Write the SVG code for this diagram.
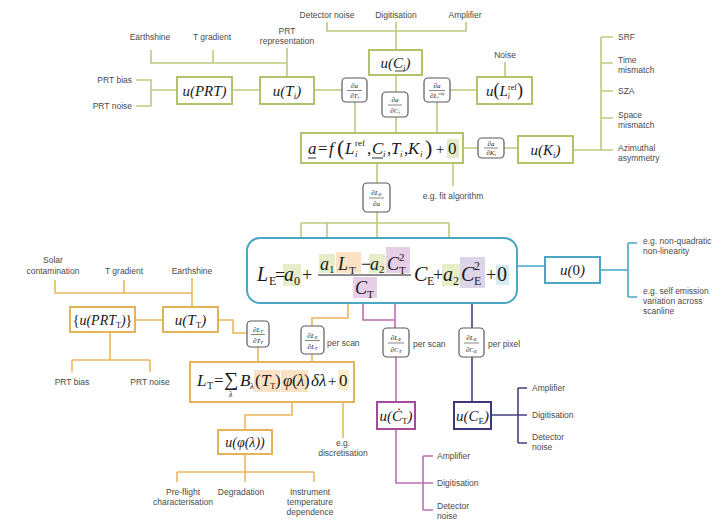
<svg xmlns="http://www.w3.org/2000/svg" width="728" height="523" viewBox="0 0 728 523">
<style>
.lbl{font-family:"Liberation Sans",Arial,sans-serif;font-size:8.5px;fill:#4a4a4a}
.m{font-family:"Liberation Serif","Times New Roman",serif;font-style:italic;fill:#1a1a1a}
.r{font-style:normal}
.gl{fill:none;stroke:#bccb7f;stroke-width:1.6}
.gb{fill:#fff;stroke:#b2c46a;stroke-width:2}
.ol{fill:none;stroke:#e9b85c;stroke-width:1.6}
.ob{fill:#fff;stroke:#e4b257;stroke-width:2}
.pl{fill:none;stroke:#bf6cb2;stroke-width:1.6}
.pb{fill:#fff;stroke:#a54a98;stroke-width:2}
.nl{fill:none;stroke:#45417f;stroke-width:1.6}
.nb{fill:#fff;stroke:#3c3878;stroke-width:2}
.bl{fill:none;stroke:#4ba6c4;stroke-width:1.6}
.bb{fill:#fff;stroke:#4ba6c4;stroke-width:2}
.pd rect{fill:#fff;stroke:#5a5a5a;stroke-width:1.2}
.pd line{stroke:#333;stroke-width:0.6}
.pd text{font-family:"Liberation Serif","Times New Roman",serif;font-style:italic;font-size:7px;fill:#222;text-anchor:middle}
</style>

<g id="connectors">
  <!-- green top -->
  <path class="gl" d="M151,50 V63 H287 M213,50 V63 M287,48 V77"/>
  <path class="gl" d="M136,80 H151 V106 H136 M151,90 H177 M232,90 H260 M314,90 H342"/>
  <path class="gl" d="M327,22 V31 H466 V22 M396,22 V50 M396,75 V92 M396,117 V133"/>
  <path class="gl" d="M355,102 V133 M437,102 V133 M450,90 H477 M505,62 V77"/>
  <path class="gl" d="M463,148 H478 M504,148 H518 M573,150 H613 M601,37 V150 M601,37 H613 M601,63 H613 M601,91 H613 M601,118 H613"/>
  <path class="gl" d="M453,163 V186 M377,163 V183 M377,212 V252 M301,223 H449 M301,223 V262 M327,223 V254 M449,223 V262"/>
  <!-- blue -->
  <path class="bl" d="M517,266 H545 M600,270 H628 M628,243 V297 M628,243 H637 M628,297 H637"/>
  <!-- orange -->
  <path class="ol" d="M55,280 V293 H192 M124,280 V293 M192,278 V307 M135,320 H163 M218,320 H233 V333 H247"/>
  <path class="ol" d="M110,332 V360 M72,360 H150 M72,360 V372 M150,360 V372"/>
  <path class="ol" d="M258,347 V362 M348,303 V318 H312 V326 M312,354 V362"/>
  <path class="ol" d="M292,402 V415 H245 V430 M343,402 V438 M245,454 V472 M177,472 H314 M177,472 V482 M245,472 V482 M314,472 V482"/>
  <!-- purple -->
  <path class="pl" d="M363,297 V320 H395 M395,278 V328 M396,357 V402 M396,429 V483 H423 M423,456 V510 M423,456 H433 M423,483 H433 M423,510 H433"/>
  <!-- navy -->
  <path class="nl" d="M472,291 V328 M472,357 V402 M491,415 H527 M518,388 V443 M518,388 H527 M518,443 H527"/>
</g>

<g id="labels" class="lbl">
  <text x="150" y="40" text-anchor="middle">Earthshine</text>
  <text x="212" y="40" text-anchor="middle">T gradient</text>
  <text x="287" y="34" text-anchor="middle">PRT</text>
  <text x="287" y="44" text-anchor="middle">representation</text>
  <text x="132" y="83" text-anchor="end">PRT bias</text>
  <text x="132" y="109" text-anchor="end">PRT noise</text>
  <text x="327" y="18" text-anchor="middle">Detector noise</text>
  <text x="396" y="18" text-anchor="middle">Digitisation</text>
  <text x="465" y="18" text-anchor="middle">Amplifier</text>
  <text x="505" y="58" text-anchor="middle">Noise</text>
  <text x="618" y="40">SRF</text>
  <text x="618" y="63">Time</text>
  <text x="618" y="73">mismatch</text>
  <text x="618" y="94">SZA</text>
  <text x="618" y="118">Space</text>
  <text x="618" y="128">mismatch</text>
  <text x="618" y="151">Azimuthal</text>
  <text x="618" y="161">asymmetry</text>
  <text x="453" y="199" text-anchor="middle">e.g. fit algorithm</text>
  <text x="643" y="244">e.g. non-quadratic</text>
  <text x="643" y="254">non-linearity</text>
  <text x="643" y="294">e.g. self emission</text>
  <text x="643" y="304">variation across</text>
  <text x="643" y="314">scanline</text>
  <text x="53" y="263" text-anchor="middle">Solar</text>
  <text x="53" y="274" text-anchor="middle">contamination</text>
  <text x="124" y="274" text-anchor="middle">T gradient</text>
  <text x="192" y="274" text-anchor="middle">Earthshine</text>
  <text x="72" y="385" text-anchor="middle">PRT bias</text>
  <text x="150" y="385" text-anchor="middle">PRT noise</text>
  <text x="327" y="346">per scan</text>
  <text x="413" y="347">per scan</text>
  <text x="488" y="347">per pixel</text>
  <text x="343" y="446" text-anchor="middle">e.g.</text>
  <text x="343" y="456" text-anchor="middle">discretisation</text>
  <text x="183" y="495" text-anchor="middle">Pre-flight</text>
  <text x="183" y="505" text-anchor="middle">characterisation</text>
  <text x="241" y="495" text-anchor="middle">Degradation</text>
  <text x="310" y="495" text-anchor="middle">Instrument</text>
  <text x="310" y="505" text-anchor="middle">temperature</text>
  <text x="310" y="515" text-anchor="middle">dependence</text>
  <text x="437" y="459">Amplifier</text>
  <text x="437" y="486">Digitisation</text>
  <text x="437" y="509">Detector</text>
  <text x="437" y="519">noise</text>
  <text x="532" y="391">Amplifier</text>
  <text x="532" y="418">Digitisation</text>
  <text x="532" y="440">Detector</text>
  <text x="532" y="450">noise</text>
</g>

<!-- green nodes -->
<g id="uPRT"><rect class="gb" x="177" y="77" width="55" height="27"/>
  <text class="m" x="204.5" y="96" font-size="15" text-anchor="middle">u(PRT)</text></g>
<g id="uTi"><rect class="gb" x="260" y="77" width="54" height="27"/>
  <text class="m" x="287" y="96" font-size="15" text-anchor="middle">u(T<tspan font-size="9" dy="3">i</tspan><tspan dy="-3">)</tspan></text></g>
<g id="uCi"><rect class="gb" x="369" y="50" width="53" height="25"/>
  <text class="m" x="395.5" y="68" font-size="15" text-anchor="middle">u(C<tspan font-size="9" dy="3">i</tspan><tspan dy="-3">)</tspan></text>
  <line x1="395" y1="71" x2="405" y2="71" stroke="#1a1a1a" stroke-width="0.8"/></g>
<g id="uLref"><rect class="gb" x="477" y="77" width="55" height="27"/>
  <text class="m" x="504.5" y="96" font-size="15" text-anchor="middle">u<tspan font-size="18" class="r">(</tspan>L<tspan font-size="8" dy="3">i</tspan><tspan font-size="8" dy="-9" dx="-2" class="r">ref</tspan><tspan font-size="18" dy="6" class="r">)</tspan></text></g>
<g id="uKi"><rect class="gb" x="518" y="136" width="55" height="27"/>
  <text class="m" x="545.5" y="155" font-size="15" text-anchor="middle">u(K<tspan font-size="9" dy="3">i</tspan><tspan dy="-3">)</tspan></text></g>

<g id="afunc"><rect class="gb" x="301" y="133" width="162" height="30"/>
  <rect x="447" y="139" width="12" height="19" fill="#e3ecc6"/>
  <text class="m" font-size="17" y="154"><tspan x="308">a</tspan><tspan x="318" class="r">=</tspan><tspan x="329">f</tspan><tspan x="337" class="r" font-size="22" dy="1">(</tspan><tspan x="345" dy="-1">L</tspan><tspan x="355" font-size="9" dy="3">i</tspan><tspan x="355" font-size="9" dy="-11" class="r">ref</tspan><tspan x="367" dy="8" class="r">,</tspan><tspan x="372">C</tspan><tspan x="383" font-size="9" dy="3">i</tspan><tspan x="387" dy="-3" class="r">,</tspan><tspan x="391">T</tspan><tspan x="400" font-size="9" dy="3">i</tspan><tspan x="404" dy="-3" class="r">,</tspan><tspan x="408">K</tspan><tspan x="420" font-size="9" dy="3">i</tspan><tspan x="425" class="r" font-size="22" dy="-2">)</tspan><tspan x="436" class="r" font-size="15" dy="-1">+</tspan><tspan x="448" class="r">0</tspan></text>
  <line x1="308" y1="158" x2="316" y2="158" stroke="#1a1a1a" stroke-width="0.9"/>
  <line x1="372" y1="158" x2="383" y2="158" stroke="#1a1a1a" stroke-width="0.9"/></g>

<!-- partial derivative boxes -->
<g id="pd_a_T" class="pd"><rect x="342" y="78" width="25" height="24" rx="4"/><text x="354.5" y="88">∂a</text><line x1="347" y1="90.5" x2="362" y2="90.5"/><text x="354.5" y="98">∂T<tspan font-size="5" dy="1">i</tspan></text></g>
<g id="pd_a_C" class="pd"><rect x="382" y="92" width="26" height="25" rx="4"/><text x="395" y="102">∂a</text><line x1="388" y1="105" x2="402" y2="105"/><text x="395" y="113">∂C<tspan font-size="5" dy="1">i</tspan></text></g>
<g id="pd_a_L" class="pd"><rect x="424" y="78" width="26" height="24" rx="4"/><text x="437" y="88">∂a</text><line x1="429" y1="90.5" x2="445" y2="90.5"/><text x="437" y="98">∂L<tspan font-size="5" dy="1">i</tspan><tspan font-size="5" dy="-4">ref</tspan></text></g>
<g id="pd_a_K" class="pd"><rect x="478" y="138" width="26" height="20" rx="4"/><text x="491" y="146">∂a</text><line x1="484" y1="148" x2="498" y2="148"/><text x="491" y="155">∂K<tspan font-size="5" dy="1">i</tspan></text></g>
<g id="pd_LE_a" class="pd"><rect x="363" y="183" width="27" height="29" rx="4"/><text x="376.5" y="195">∂L<tspan font-size="5" dy="1">E</tspan></text><line x1="369" y1="198" x2="384" y2="198"/><text x="376.5" y="206">∂a</text></g>
<g id="pd_LT_T" class="pd"><rect x="247" y="321" width="22" height="26" rx="4"/><text x="258" y="332">∂L<tspan font-size="5" dy="1">T</tspan></text><line x1="251" y1="334.5" x2="265" y2="334.5"/><text x="258" y="343">∂T<tspan font-size="5" dy="1">T</tspan></text></g>
<g id="pd_LE_LT" class="pd"><rect x="301" y="326" width="23" height="28" rx="4"/><text x="312.5" y="338">∂L<tspan font-size="5" dy="1">E</tspan></text><line x1="305" y1="340.5" x2="320" y2="340.5"/><text x="312.5" y="349">∂L<tspan font-size="5" dy="1">T</tspan></text></g>
<g id="pd_LE_CT" class="pd"><rect x="383" y="328" width="26" height="29" rx="4"/><text x="396" y="340">∂L<tspan font-size="5" dy="1">E</tspan></text><line x1="388" y1="343" x2="404" y2="343"/><text x="396" y="352">∂C<tspan font-size="5" dy="1">T</tspan></text></g>
<g id="pd_LE_CE" class="pd"><rect x="459" y="328" width="25" height="29" rx="4"/><text x="471.5" y="340">∂L<tspan font-size="5" dy="1">E</tspan></text><line x1="464" y1="343" x2="479" y2="343"/><text x="471.5" y="352">∂C<tspan font-size="5" dy="1">E</tspan></text></g>

<!-- main LE equation -->
<g id="LE">
  <rect class="bb" x="247" y="238" width="270" height="65" rx="13"/>
  <rect x="283" y="264" width="18" height="22" fill="#e6edc8"/>
  <rect x="319" y="254" width="16" height="19" fill="#e6edc8"/>
  <rect x="336" y="252" width="25" height="21" fill="#fbe2c4"/>
  <rect x="369" y="254" width="16" height="19" fill="#e6edc8"/>
  <rect x="386" y="247" width="24" height="26" fill="#e8cfe8"/>
  <rect x="353" y="277" width="24" height="21" fill="#e8cfe8"/>
  <rect x="442" y="264" width="18" height="22" fill="#e6edc8"/>
  <rect x="460" y="257" width="25" height="31" fill="#dcd5ea"/>
  <rect x="496" y="265" width="13" height="20" fill="#d5eaf2"/>
  <line x1="318" y1="275" x2="411" y2="275" stroke="#1a1a1a" stroke-width="1"/>
  <text class="m" font-size="20" y="281"><tspan x="257">L</tspan><tspan x="269" font-size="12" dy="4" class="r">E</tspan><tspan x="275" dy="-4" class="r" font-size="18">=</tspan><tspan x="284">a</tspan><tspan x="294" font-size="12" dy="4" class="r">0</tspan><tspan x="302" dy="-4" class="r" font-size="18">+</tspan><tspan x="414">C</tspan><tspan x="427" font-size="12" dy="4" class="r">E</tspan><tspan x="433" dy="-4" class="r" font-size="18">+</tspan><tspan x="443">a</tspan><tspan x="453" font-size="12" dy="4" class="r">2</tspan><tspan x="461" dy="-4">C</tspan><tspan x="474" font-size="12" dy="-11" class="r">2</tspan><tspan x="474" font-size="12" dy="15" class="r">E</tspan><tspan x="486" dy="-4" class="r" font-size="18">+</tspan><tspan x="497" class="r">0</tspan></text>
  <text class="m" font-size="18" y="270"><tspan x="320">a</tspan><tspan x="329" font-size="11" dy="3" class="r">1</tspan><tspan x="338" dy="-3">L</tspan><tspan x="349" font-size="11" dy="4" class="r">T</tspan><tspan x="361" dy="-4" class="r">−</tspan><tspan x="370">a</tspan><tspan x="379" font-size="11" dy="3" class="r">2</tspan><tspan x="387" dy="-3">C</tspan><tspan x="399" font-size="11" dy="-9" class="r">2</tspan><tspan x="399" font-size="11" dy="13" class="r">T</tspan></text>
  <text class="m" font-size="18" y="294"><tspan x="355">C</tspan><tspan x="367" font-size="11" dy="4" class="r">T</tspan></text>
</g>

<g id="u0"><rect class="bb" x="545" y="257" width="55" height="26"/>
  <text class="m" x="572.5" y="275" font-size="15" text-anchor="middle">u(<tspan class="r">0</tspan>)</text></g>

<!-- orange nodes -->
<g id="uPRTT"><rect class="ob" x="70" y="307" width="65" height="25"/>
  <text class="m" x="102.5" y="325" font-size="14" text-anchor="middle"><tspan class="r">{</tspan>u(PRT<tspan font-size="8" dy="3" class="r">T</tspan><tspan dy="-3">)</tspan><tspan class="r">}</tspan></text></g>
<g id="uTT"><rect class="ob" x="163" y="307" width="55" height="25"/>
  <text class="m" x="190.5" y="325" font-size="15" text-anchor="middle">u(T<tspan font-size="9" dy="3" class="r">T</tspan><tspan dy="-3">)</tspan></text></g>
<g id="LT"><rect class="ob" x="190" y="362" width="164" height="40"/>
  <rect x="254" y="370" width="26" height="22" fill="#fbe2c4"/>
  <rect x="281" y="370" width="27" height="22" fill="#fbe2c4"/>
  <rect x="338" y="370" width="11" height="20" fill="#f9efc9"/>
  <text class="m" font-size="17" y="386"><tspan x="197">L</tspan><tspan x="207" font-size="10" dy="3" class="r">T</tspan><tspan x="214" dy="-3" class="r">=</tspan><tspan x="224" class="r" font-size="20">∑</tspan><tspan x="240">B</tspan><tspan x="250" font-size="9" dy="3">λ</tspan><tspan x="255" dy="-3" class="r">(</tspan><tspan x="261">T</tspan><tspan x="270" font-size="9" dy="3" class="r">T</tspan><tspan x="275" dy="-3" class="r">)</tspan><tspan x="283">φ</tspan><tspan x="292" class="r">(</tspan><tspan x="297">λ</tspan><tspan x="304" class="r">)</tspan><tspan x="311">δλ</tspan><tspan x="328" class="r" font-size="15">+</tspan><tspan x="339" class="r">0</tspan></text>
  <text class="m" x="229" y="397" font-size="8">λ</text></g>
<g id="uphi"><rect class="ob" x="218" y="430" width="54" height="24"/>
  <text class="m" x="245" y="447" font-size="14" text-anchor="middle">u(φ(λ))</text></g>

<!-- purple / navy nodes -->
<g id="uCT"><rect class="pb" x="377" y="402" width="38" height="27"/>
  <text class="m" x="396" y="421" font-size="15" text-anchor="middle">u(Ċ<tspan font-size="9" dy="3" class="r">T</tspan><tspan dy="-3">)</tspan></text></g>
<g id="uCE"><rect class="nb" x="454" y="402" width="37" height="27"/>
  <text class="m" x="472.5" y="421" font-size="15" text-anchor="middle">u(C<tspan font-size="9" dy="3" class="r">E</tspan><tspan dy="-3">)</tspan></text></g>
</svg>
